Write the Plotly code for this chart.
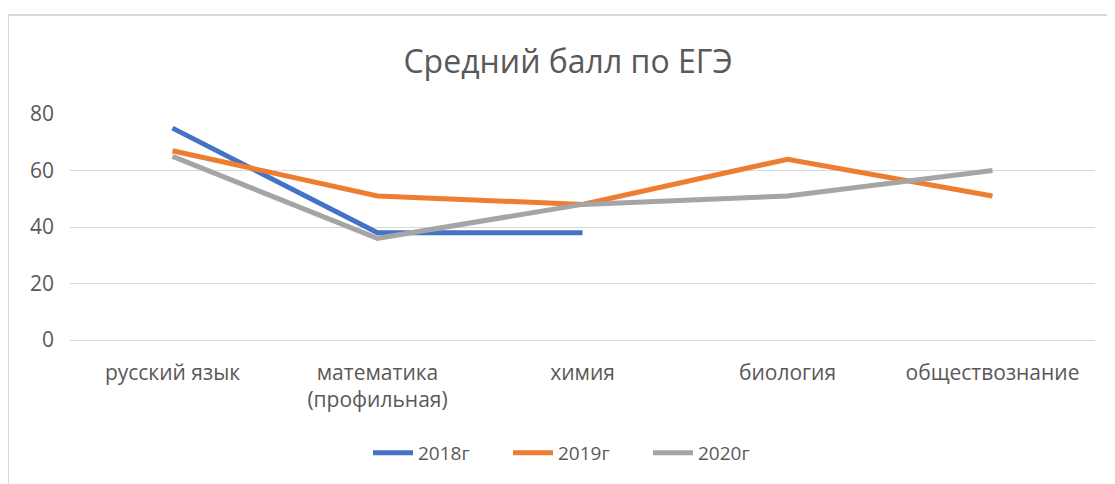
import plotly.graph_objects as go

categories = ["русский язык", "математика<br>(профильная)", "химия", "биология", "обществознание"]
y2018 = [75, 38, 38, None, None]
y2019 = [67, 51, 48, 64, 51]
y2020 = [65, 36, 48, 51, 60]
series_names = ["2018г", "2019г", "2020г"]
colors = ["#4472C4", "#ED7D31", "#A5A5A5"]
y_ticks = [0, 20, 40, 60, 80]

fig = go.Figure()
for name, vals, col in zip(series_names, [y2018, y2019, y2020], colors):
    fig.add_trace(go.Scatter(x=categories, y=vals, mode="lines", name=name,
                             line=dict(color=col, width=5), connectgaps=False))

# the page body has an 8px margin, so target pixel positions are shifted by -8
OFF = 8
W, H = 1115, 484
ml, mr, mt, mb = 70 - OFF, 20 + OFF, 114 - OFF, 144 + OFF
pw = W - ml - mr
ph = H - mt - mb

def px_x(px):
    return (px - OFF - ml) / pw

def px_y(py):
    return (H - mb - (py - OFF)) / ph

fig.update_layout(
    width=W, height=H,
    margin=dict(l=ml, r=mr, t=mt, b=mb, autoexpand=False),
    paper_bgcolor="white", plot_bgcolor="white",
    title=dict(text="Средний балл по ЕГЭ", x=(568 - OFF) / W, xanchor="center",
               y=1 - (62 - OFF) / H, yanchor="middle", automargin=False,
               font=dict(family="Open Sans", size=32, color="#595959")),
    font=dict(family="Open Sans", color="#595959"),
    xaxis=dict(range=[-0.5, 4.5], showgrid=False, showline=False, zeroline=False, ticks="",
               automargin=False, ticklabelstandoff=18,
               tickfont=dict(size=21, color="#595959")),
    yaxis=dict(range=[0, 80], tickvals=y_ticks, showgrid=True, gridcolor="#d9d9d9",
               gridwidth=1, zeroline=True, zerolinecolor="#d9d9d9", zerolinewidth=1,
               showline=False, ticks="", automargin=False,
               tickfont=dict(size=21, color="#595959"), ticklabelstandoff=15),
    legend=dict(orientation="h", x=px_x(578), xanchor="center", y=px_y(453), yanchor="middle",
                font=dict(size=19, color="#595959"), itemwidth=40,
                entrywidth=85, entrywidthmode="pixels"),
    showlegend=True,
    shapes=[
        dict(type="line", xref="paper", yref="paper", x0=px_x(8), x1=px_x(8),
             y0=px_y(500), y1=px_y(15), line=dict(color="#d9d9d9", width=2)),
        dict(type="line", xref="paper", yref="paper", x0=px_x(8), x1=px_x(1130),
             y0=px_y(15), y1=px_y(15), line=dict(color="#d9d9d9", width=2)),
    ],
)

fig.write_html("out.html")
